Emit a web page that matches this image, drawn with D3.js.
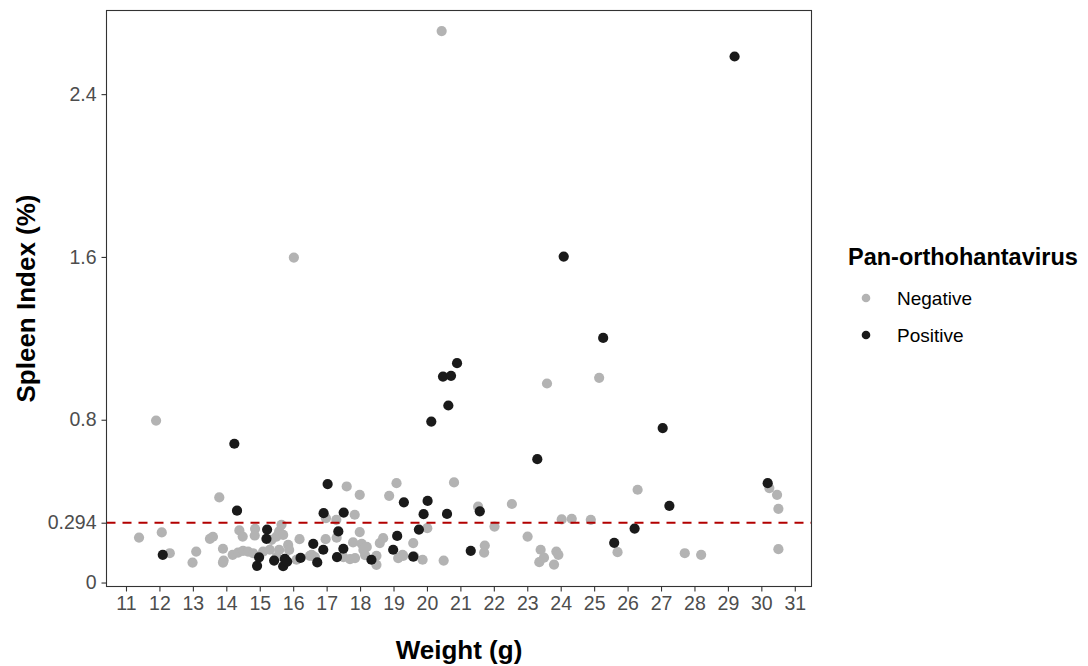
<!DOCTYPE html>
<html>
<head>
<meta charset="utf-8">
<script src="https://cdn.jsdelivr.net/npm/d3@7"></script>
<style>
  body { margin: 0; background: #fff; }
  svg text { font-family: "Liberation Sans", Arial, sans-serif; }
</style>
</head>
<body>
<svg id="chart" width="1088" height="666"></svg>
<script>
// ---- data ----
const negativeWeight = [11.39,12.07,12.31,12.99,13.10,13.51,13.60,13.79,13.90,13.90,13.92,14.19,14.35,14.39,14.49,14.50,14.65,14.80,14.86,14.85,15.10,15.30,15.35,15.50,15.50,15.58,15.58,15.65,15.70,15.85,15.88,16.02,16.10,16.19,16.50,16.55,16.65,16.97,16.98,17.29,17.30,17.50,17.60,17.70,17.79,17.84,17.85,17.99,17.99,18.05,18.10,18.15,18.20,18.49,18.49,18.59,18.69,18.87,19.09,19.14,19.27,19.29,19.59,19.62,19.87,20.01,20.44,20.50,20.81,21.53,21.71,21.73,22.02,22.54,23.01,23.36,23.40,23.50,23.59,23.80,23.87,23.93,24.03,24.33,24.90,25.15,25.70,26.30,27.71,28.20,30.24,30.47,30.51,30.51,11.90];
const negativeIndex  = [0.221,0.246,0.144,0.098,0.152,0.215,0.225,0.418,0.166,0.098,0.108,0.136,0.147,0.256,0.226,0.156,0.152,0.144,0.264,0.231,0.152,0.161,0.210,0.226,0.125,0.251,0.160,0.284,0.234,0.185,0.160,1.597,0.112,0.213,0.131,0.136,0.125,0.213,0.316,0.308,0.220,0.125,0.472,0.115,0.197,0.333,0.120,0.431,0.248,0.190,0.160,0.135,0.175,0.131,0.087,0.194,0.218,0.426,0.488,0.120,0.136,0.131,0.194,0.128,0.112,0.267,2.710,0.108,0.492,0.373,0.147,0.182,0.275,0.386,0.226,0.100,0.161,0.122,0.978,0.088,0.152,0.136,0.310,0.313,0.308,1.006,0.149,0.456,0.144,0.136,0.464,0.431,0.362,0.164,0.796];
const positiveWeight = [12.10,14.24,14.32,14.92,14.98,15.20,15.22,15.43,15.70,15.75,15.82,16.22,16.60,16.72,16.90,16.91,17.03,17.31,17.35,17.50,17.51,18.34,18.99,19.11,19.31,19.59,19.76,19.90,20.02,20.13,20.48,20.60,20.64,20.72,20.90,21.31,21.58,23.30,24.09,25.27,25.60,26.21,27.05,27.25,29.20,30.19];
const positiveIndex  = [0.136,0.682,0.353,0.082,0.124,0.215,0.260,0.108,0.080,0.116,0.103,0.121,0.190,0.099,0.161,0.341,0.484,0.125,0.251,0.166,0.344,0.112,0.161,0.229,0.394,0.127,0.260,0.336,0.401,0.791,1.012,0.337,0.870,1.016,1.078,0.156,0.350,0.606,1.602,1.202,0.195,0.265,0.759,0.377,2.585,0.488];
const xTicks = d3.range(11, 32);
const yTicks = [0, 0.294, 0.8, 1.6, 2.4];
const yTickLabels = ["0", "0.294", "0.8", "1.6", "2.4"];
const threshold = 0.294;
const groups = ["Negative", "Positive"];
const groupColors = ["#b3b3b3", "#1a1a1a"];

// ---- layout ----
const svg = d3.select("#chart");
const panel = { left: 106.5, right: 811.5, top: 10.5, bottom: 586.5 };
const x = d3.scaleLinear().domain([10.417, 31.5]).range([panel.left, panel.right]);
const y = d3.scaleLinear().domain([-0.0195, 2.811]).range([panel.bottom, panel.top]);
const color = d3.scaleOrdinal().domain(groups).range(groupColors);

const points = [];
negativeWeight.forEach((w, i) => points.push({ w, v: negativeIndex[i], g: "Negative" }));
positiveWeight.forEach((w, i) => points.push({ w, v: positiveIndex[i], g: "Positive" }));

// points
svg.append("g").selectAll("circle").data(points).join("circle")
  .attr("cx", d => x(d.w)).attr("cy", d => y(d.v)).attr("r", 5.1)
  .attr("fill", d => color(d.g));

// threshold line
svg.append("line")
  .attr("x1", panel.left).attr("x2", panel.right)
  .attr("y1", y(threshold)).attr("y2", y(threshold))
  .attr("stroke", "#b20000").attr("stroke-width", 2)
  .attr("stroke-dasharray", "9,7");

// panel border
svg.append("rect")
  .attr("x", panel.left).attr("y", panel.top)
  .attr("width", panel.right - panel.left).attr("height", panel.bottom - panel.top)
  .attr("fill", "none").attr("stroke", "#333").attr("stroke-width", 1.1);

// axes
const xAxis = svg.append("g").attr("transform", `translate(0,${panel.bottom})`)
  .call(d3.axisBottom(x).tickValues(xTicks).tickSize(5).tickPadding(5).tickFormat(d3.format("d")));
const yAxis = svg.append("g").attr("transform", `translate(${panel.left},0)`)
  .call(d3.axisLeft(y).tickValues(yTicks).tickSize(5).tickPadding(5).tickFormat((d, i) => yTickLabels[i]));
[xAxis, yAxis].forEach(a => {
  a.select(".domain").remove();
  a.selectAll(".tick line").attr("stroke", "#333").attr("stroke-width", 1.1);
  a.selectAll(".tick text").attr("fill", "#4d4d4d").style("font-size", "19.5px")
    .style("font-family", "'Liberation Sans', Arial, sans-serif");
});

// axis titles
svg.append("text").attr("x", (panel.left + panel.right) / 2).attr("y", 659)
  .attr("text-anchor", "middle").style("font-size", "26px").style("font-weight", "bold")
  .attr("fill", "#000").text("Weight (g)");
svg.append("text").attr("transform", `translate(35,${(panel.top + panel.bottom) / 2}) rotate(-90)`)
  .attr("text-anchor", "middle").style("font-size", "26px").style("font-weight", "bold")
  .attr("fill", "#000").text("Spleen Index (%)");

// legend
const lg = svg.append("g").attr("transform", "translate(848,0)");
lg.append("text").attr("x", 0).attr("y", 265).style("font-size", "23.5px").style("font-weight", "bold")
  .attr("fill", "#000").text("Pan-orthohantavirus");
groups.forEach((g, i) => {
  const cy = 298 + i * 37;
  lg.append("circle").attr("cx", 18).attr("cy", cy).attr("r", 4.3).attr("fill", color(g));
  lg.append("text").attr("x", 49).attr("y", cy + 6.5).style("font-size", "19px")
    .attr("fill", "#000").text(g);
});
</script>
</body>
</html>
